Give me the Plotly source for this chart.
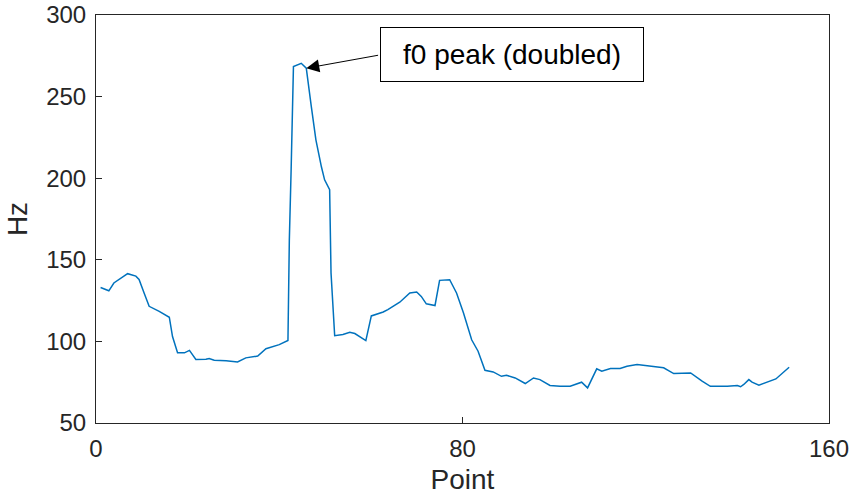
import plotly.graph_objects as go

# f0 track read per analysis point
point = [1, 2.8, 3.9, 5.5, 6.9, 8.7, 9.4, 10.5, 11.6, 13.8, 16, 16.7, 17.8, 19.3, 20.4, 21.8,
         24, 24.7, 25.8, 28.4, 30.9, 32.7, 35.3, 37.1, 40, 41.9, 42.2, 42.6, 43, 43.1,
         44.8, 45.9, 47, 48, 49.2, 49.9, 51, 51.3, 52.1, 53.9, 55.4, 56.5, 58.9, 60.1,
         62.7, 63.7, 66.3, 68.5, 70, 71, 72.1, 74, 75, 77.2, 78.7, 80.2, 82, 83.4, 84.9,
         86.7, 88.5, 89.6, 91.5, 93.7, 95.5, 96.9, 99.1, 101.3, 103.5, 106, 107.3, 108.2,
         109.3, 110.4, 112.3, 114.4, 115.9, 118.1, 121.4, 123.9, 126.1, 128.7, 129.8,
         132.3, 134.1, 137.8, 140, 140.7, 141.4, 142.5, 143.2, 144.7, 147.3, 148.4, 151.3]
hz = [133, 131, 135.8, 139, 141.5, 140, 138, 129.7, 121.5, 118.4, 114.8, 103, 93, 93, 94.5, 88.9,
      89, 89.5, 88.4, 88.2, 87.4, 89.9, 91, 95.5, 98, 100.6, 162, 206, 247, 268.4,
      270.4, 267.4, 243.9, 223.5, 207, 199, 193, 142, 103.5, 104.2, 105.6, 104.8, 100.5, 115.6,
      118, 119.5, 124, 129.7, 130.3, 127.6, 123, 122, 137.4, 137.8, 129.7, 117.5, 101, 94, 82.3,
      81.3, 78.6, 79.2, 77.6, 74.2, 77.6, 76.6, 73, 72.5, 72.5, 75, 71.5, 76.6,
      83.2, 81.7, 83.4, 83.4, 84.8, 85.8, 84.8, 83.8, 80.3, 80.3, 80.7,
      75.6, 72.5, 72.5, 73, 72.2, 73.6, 76.6, 75, 73.2, 75.6, 77, 84.2]

x_ticks = [0, 80, 160]
y_ticks = [50, 100, 150, 200, 250, 300]

peak_x, peak_y = 45.9, 267.4
label_text = "f0 peak (doubled)"

axis_color = "#262626"
font_family = "Liberation Sans, Arial, sans-serif"

fig = go.Figure()
fig.add_trace(go.Scatter(x=point, y=hz, mode="lines",
                         line=dict(color="#0072BD", width=1.5),
                         hoverinfo="skip", showlegend=False))

# text box
fig.add_annotation(x=90.8, y=275.8, xref="x", yref="y", text=label_text,
                   showarrow=False, font=dict(family=font_family, size=28, color="black"),
                   width=258, height=49, align="center",
                   bgcolor="white", bordercolor="black", borderwidth=1, borderpad=2)
# arrow from the box edge to the peak
fig.add_annotation(x=peak_x, y=peak_y, xref="x", yref="y",
                   ax=61.9, ay=275.5, axref="x", ayref="y", text="",
                   showarrow=True, arrowhead=2, arrowsize=2.6, arrowwidth=1,
                   arrowcolor="black", standoff=0)

axis_common = dict(showline=True, linecolor=axis_color, linewidth=1, mirror=True,
                   ticks="inside", ticklen=6, tickcolor=axis_color, showgrid=False,
                   zeroline=False, automargin=False,
                   tickfont=dict(family=font_family, size=24, color=axis_color),
                   title_font=dict(family=font_family, size=28, color=axis_color))

fig.update_xaxes(range=[0, 160], tickvals=x_ticks, title_text="Point",
                 title_standoff=8, ticklabelstandoff=4, **axis_common)
fig.update_yaxes(range=[50, 300], tickvals=y_ticks, title_text="Hz",
                 title_standoff=10, ticklabelstandoff=4, **axis_common)

fig.update_layout(width=851, height=503, margin=dict(l=96, r=22, t=15, b=80),
                  paper_bgcolor="white", plot_bgcolor="white")

fig.write_html("out.html")
